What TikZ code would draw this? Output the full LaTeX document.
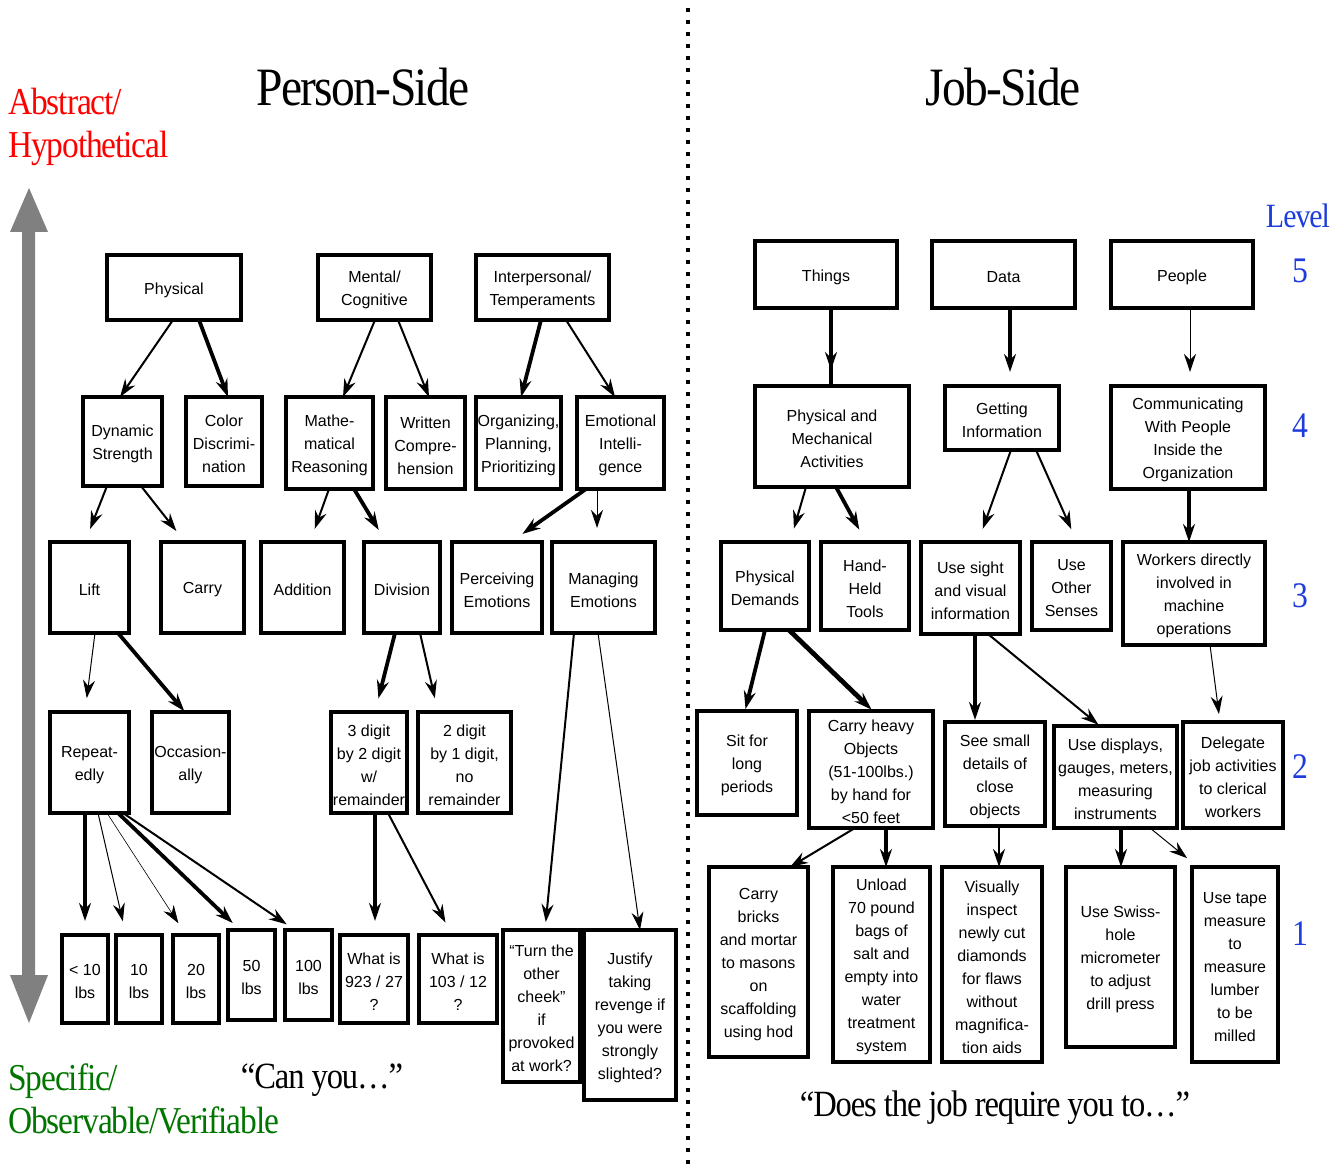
\documentclass[tikz,border=0pt]{standalone}
\usepackage{fontspec}
\setmainfont{Liberation Serif}
\setsansfont{Liberation Sans}
\newfontfamily\headfont[FakeStretch=0.88,LetterSpace=-3]{Liberation Serif}
\usetikzlibrary{arrows.meta,calc}

\definecolor{abstractred}{RGB}{255,0,0}
\definecolor{specgreen}{RGB}{0,118,0}
\definecolor{levelblue}{RGB}{30,60,220}
\definecolor{scalegray}{RGB}{128,128,128}

\tikzset{
  box/.style={draw, line width=1.7pt, inner sep=0pt, outer sep=0pt},
  boxtext/.style={align=center, inner sep=0pt, yshift=-1.2pt,
    font=\sffamily\fontsize{8}{11.5}\selectfont},
  conn/.style={-{Stealth[length=9pt,width=6pt,inset=3pt]}},
  w0/.style={conn, line width=0.3pt},
  w1/.style={conn, line width=0.5pt},
  w2/.style={conn, line width=1pt},
  w3/.style={conn, line width=1.9pt},
  w4/.style={conn, line width=2.4pt},
  plainthick/.style={line width=1.9pt},
  heading/.style={font=\headfont\fontsize{27}{30}\selectfont, anchor=base},
  axislabel/.style={font=\headfont\fontsize{19}{21}\selectfont, anchor=base west, inner sep=0pt},
  question/.style={font=\headfont\fontsize{18.5}{20}\selectfont, anchor=base},
  levelnum/.style={font=\headfont\fontsize{18}{20}\selectfont, anchor=base, text=levelblue},
}

% box given by its left, top, right and bottom edge (in pixel units)
\newcommand\placebox[6]{%
  \node[box, minimum width={(#4-#2)*0.5pt}, minimum height={(#5-#3)*0.5pt},
    label={[boxtext]center:{#6}}]
    (#1) at ({(#2+#4)/2},{(#3+#5)/2}) {};}

\begin{document}
\begin{tikzpicture}[x=0.5pt, y=-0.5pt]
\useasboundingbox (0,0) rectangle (1340,1171);
\fill[white] (0,0) rectangle (1340,1171);

% ---------- headings and side labels ----------
\node[heading] (ptitle) at (363,106) {Person-Side};
\node[heading] (jtitle) at (1003,106) {Job-Side};

\node[axislabel, text=abstractred] (abs1) at (8,115) {Abstract/};
\node[axislabel, text=abstractred] (abs2) at (8,158) {Hypothetical};
\node[axislabel, text=specgreen] (spec1) at (8,1090) {Specific/};
\node[axislabel, text=specgreen] (spec2) at (8,1133) {Observable/Verifiable};

\node[question] (canyou) at (322,1088) {“Can you…”};
\node[question] (doesjob) at (995,1116) {“Does the job require you to…”};

\node[font=\headfont\fontsize{17}{20}\selectfont, anchor=base, text=levelblue] (levelhd) at (1298,228) {Level};
\node[levelnum] (lv5) at (1300,283) {5};
\node[levelnum] (lv4) at (1300,438) {4};
\node[levelnum] (lv3) at (1300,608) {3};
\node[levelnum] (lv2) at (1300,778) {2};
\node[levelnum] (lv1) at (1300,945) {1};

% ---------- abstract / specific scale ----------
\fill[scalegray] (22,232) -- (10,232) -- (29,188) -- (48,232) -- (35,232)
  -- (35,975) -- (48,975) -- (29,1023) -- (10,975) -- (22,975) -- cycle;

% ---------- divider ----------
\draw[line width=1.6pt, dash pattern=on 2pt off 4pt] (688,8) -- (688,1171);

% ---------- person side ----------
\placebox{phys}{107}{255}{241}{320}{Physical}
\placebox{mental}{318}{255}{431}{320}{Mental/\\Cognitive}
\placebox{inter}{476}{255}{609}{320}{Interpersonal/\\Temperaments}

\placebox{dyn}{83}{397}{162}{486}{Dynamic\\Strength}
\placebox{colr}{186}{397}{262}{486}{Color\\Discrimi-\\nation}
\placebox{math}{286}{397}{373}{489}{Mathe-\\matical\\Reasoning}
\placebox{written}{386}{397}{465}{489}{Written\\Compre-\\hension}
\placebox{org}{476}{397}{561}{489}{Organizing,\\Planning,\\Prioritizing}
\placebox{emo}{577}{397}{664}{489}{Emotional\\Intelli-\\gence}

\placebox{lift}{50}{542}{129}{633}{Lift}
\placebox{carry}{161}{542}{244}{633}{Carry}
\placebox{addn}{261}{542}{344}{633}{Addition}
\placebox{divn}{364}{542}{440}{633}{Division}
\placebox{perc}{452}{542}{542}{633}{Perceiving\\Emotions}
\placebox{manag}{552}{542}{655}{633}{Managing\\Emotions}

\placebox{rep}{50}{712}{129}{813}{Repeat-\\edly}
\placebox{occ}{152}{712}{229}{813}{Occasion-\\ally}
\placebox{tdig}{331}{712}{407}{813}{3 digit\\by 2 digit\\w/\\remainder}
\placebox{twodig}{418}{712}{511}{813}{2 digit\\by 1 digit,\\no\\remainder}

\placebox{lbsA}{62}{935}{108}{1023}{< 10\\lbs}
\placebox{lbsB}{116}{935}{162}{1023}{10\\lbs}
\placebox{lbsC}{173}{935}{219}{1023}{20\\lbs}
\placebox{lbsD}{228}{930}{275}{1020}{50\\lbs}
\placebox{lbsE}{285}{930}{332}{1020}{100\\lbs}
\placebox{qA}{340}{935}{408}{1023}{What is\\923 / 27\\?}
\placebox{qB}{419}{935}{497}{1023}{What is\\103 / 12\\?}
\placebox{cheek}{503}{930}{580}{1082}{“Turn the\\other\\cheek”\\if\\provoked\\at work?}
\placebox{justify}{584}{930}{676}{1100}{Justify\\taking\\revenge if\\you were\\strongly\\slighted?}

% person-side connectors
\draw[w2] (173,0 |- phys.south) -- (120,0 |- dyn.north);
\draw[w3] (199,0 |- phys.south) -- (228,0 |- colr.north);
\draw[w2] (375,0 |- mental.south) -- (343,0 |- math.north);
\draw[w2] (398,0 |- mental.south) -- (429,0 |- written.north);
\draw[w3] (541,0 |- inter.south) -- (521,0 |- org.north);
\draw[w2] (566,0 |- inter.south) -- (615,0 |- emo.north);

\draw[w2, shorten >=7pt] (107,0 |- dyn.south) -- (85,0 |- lift.north);
\draw[w2, shorten >=7pt] (141,0 |- dyn.south) -- (185,0 |- carry.north);
\draw[w2, shorten >=7pt] (329,0 |- math.south) -- (310,0 |- addn.north);
\draw[w3, shorten >=7pt] (354,0 |- math.south) -- (386,0 |- divn.north);
\draw[w3, shorten >=7pt] (586,0 |- emo.south) -- (511,0 |- perc.north);
\draw[w1, shorten >=7pt] (597,0 |- emo.south) -- (597,0 |- manag.north);

\draw[w1, shorten >=7pt] (95,0 |- lift.south) -- (85,0 |- rep.north);
\draw[w3, shorten >=0.5pt] (118,0 |- lift.south) -- (185,0 |- occ.north);
\draw[w3, shorten >=7pt] (395,0 |- divn.south) -- (375,0 |- tdig.north);
\draw[w2, shorten >=7pt] (420,0 |- divn.south) -- (438,0 |- twodig.north);

\draw[w3, shorten >=7pt] (85,0 |- rep.south) -- (85,0 |- lbsA.north);
\draw[w1, shorten >=7pt] (98,0 |- rep.south) -- (126,0 |- lbsB.north);
\draw[w0, shorten >=7pt] (107,0 |- rep.south) -- (186,0 |- lbsC.north);
\draw[w3, shorten >=5pt] (118,0 |- rep.south) -- (240,0 |- lbsD.north);
\draw[w2, shorten >=5pt] (123,0 |- rep.south) -- (295,0 |- lbsE.north);
\draw[w3, shorten >=7pt] (375,0 |- tdig.south) -- (375,0 |- qA.north);
\draw[w2, shorten >=7pt] (388,0 |- tdig.south) -- (452,0 |- qB.north);
\draw[w2, shorten >=4pt] (574,0 |- manag.south) -- (545,0 |- cheek.north);
\draw[w1] (598,0 |- manag.south) -- (640,0 |- justify.north);

% ---------- job side ----------
\placebox{things}{755}{241}{897}{308}{Things}
\placebox{data}{932}{241}{1075}{308}{Data}
\placebox{people}{1111}{241}{1253}{308}{People}

\placebox{pm}{755}{386}{909}{487}{Physical and\\Mechanical\\Activities}
\placebox{getinfo}{945}{386}{1059}{450}{Getting\\Information}
\placebox{comm}{1111}{386}{1265}{489}{Communicating\\With People\\Inside the\\Organization}

\placebox{physdem}{721}{542}{809}{630}{Physical\\Demands}
\placebox{hand}{821}{542}{909}{630}{Hand-\\Held\\Tools}
\placebox{sight}{921}{542}{1020}{634}{Use sight\\and visual\\information}
\placebox{other}{1032}{542}{1111}{630}{Use\\Other\\Senses}
\placebox{workers}{1123}{542}{1265}{645}{Workers directly\\involved in\\machine\\operations}

\placebox{sit}{697}{711}{797}{815}{Sit for\\long\\periods}
\placebox{heavy}{809}{711}{933}{828}{Carry heavy\\Objects\\(51-100lbs.)\\by hand for\\<50 feet}
\placebox{seesmall}{945}{722}{1045}{826}{See small\\details of\\close\\objects}
\placebox{displays}{1054}{726}{1177}{828}{Use displays,\\gauges, meters,\\measuring\\instruments}
\placebox{delegate}{1183}{722}{1283}{828}{Delegate\\job activities\\to clerical\\workers}

\placebox{bricks}{709}{867}{808}{1057}{Carry\\bricks\\and mortar\\to masons\\on\\scaffolding\\using hod}
\placebox{unload}{833}{867}{930}{1062}{Unload\\70 pound\\bags of\\salt and\\empty into\\water\\treatment\\system}
\placebox{visual}{942}{867}{1042}{1062}{Visually\\inspect\\newly cut\\diamonds\\for flaws\\without\\magnifica-\\tion aids}
\placebox{swiss}{1066}{867}{1175}{1047}{Use Swiss-\\hole\\micrometer\\to adjust\\drill press}
\placebox{tape}{1192}{867}{1278}{1062}{Use tape\\measure\\to\\measure\\lumber\\to be\\milled}

% job-side connectors
\draw[plainthick] (831,0 |- things.south) -- (831,0 |- pm.north);
\draw[w3, shorten >=8pt] (831,0 |- things.south) -- (831,0 |- pm.north);
\draw[w3, shorten >=7pt] (1010,0 |- data.south) -- (1010,0 |- getinfo.north);
\draw[w1, shorten >=7pt] (1190,0 |- people.south) -- (1190,0 |- comm.north);

\draw[w2, shorten >=7pt] (806,0 |- pm.south) -- (790,0 |- physdem.north);
\draw[w3, shorten >=7pt] (836,0 |- pm.south) -- (866,0 |- hand.north);
\draw[w2, shorten >=7pt] (1011,0 |- getinfo.south) -- (978,0 |- sight.north);
\draw[w2, shorten >=7pt] (1036,0 |- getinfo.south) -- (1077,0 |- other.north);
\draw[w3] (1189,0 |- comm.south) -- (1189,0 |- workers.north);

\draw[w3, shorten >=1pt] (765,0 |- physdem.south) -- (745,0 |- sit.north);
\draw[w4, shorten >=1pt] (789,0 |- physdem.south) -- (873,0 |- heavy.north);
\draw[w3, shorten >=1pt] (975,0 |- sight.south) -- (975,0 |- seesmall.north);
\draw[w2, shorten >=1pt] (988,0 |- sight.south) -- (1100,0 |- displays.north);
\draw[w1, shorten >=4pt] (1210,0 |- workers.south) -- (1220,0 |- delegate.north);

\draw[w2] (855,0 |- heavy.south) -- (790,0 |- bricks.north);
\draw[w3] (886,0 |- heavy.south) -- (886,0 |- unload.north);
\draw[w2] (999,0 |- seesmall.south) -- (999,0 |- visual.north);
\draw[w3] (1121,0 |- displays.south) -- (1121,0 |- swiss.north);
\draw[w1, shorten >=7pt] (1150,0 |- displays.south) -- (1198,0 |- tape.north);
\end{tikzpicture}
\end{document}
